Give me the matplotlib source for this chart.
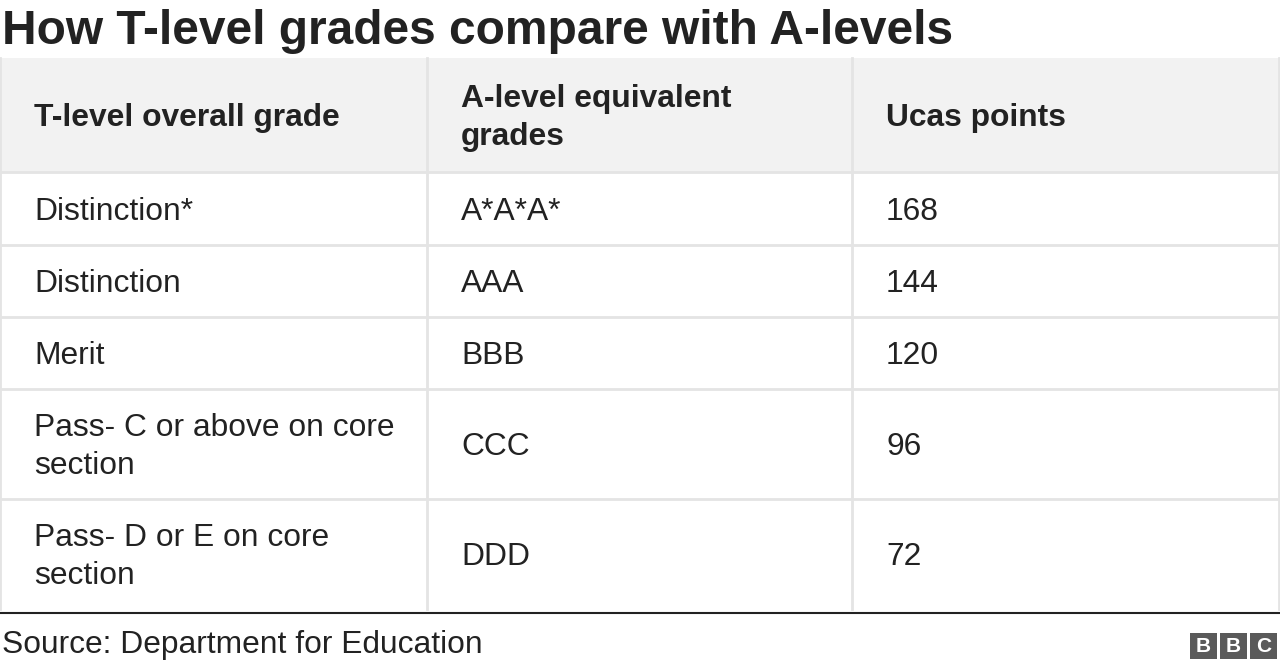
import matplotlib
matplotlib.use("Agg")
import matplotlib.pyplot as plt
from matplotlib.patches import Rectangle

title = "How T-level grades compare with A-levels"
headers = ["T-level overall grade", "A-level equivalent\ngrades", "Ucas points"]
tlevel = ["Distinction*", "Distinction", "Merit", "Pass- C or above on core\nsection", "Pass- D or E on core\nsection"]
alevel = ["A*A*A*", "AAA", "BBB", "CCC", "DDD"]
ucas = ["168", "144", "120", "96", "72"]
source = "Source: Department for Education"

W, H = 1280, 670
fig = plt.figure(figsize=(W/100, H/100), dpi=100)
ax = fig.add_axes([0, 0, 1, 1])
ax.set_xlim(0, W); ax.set_ylim(H, 0); ax.axis("off")
font = "Liberation Sans"

ax.text(2, 31, title, fontsize=34.5, fontweight="bold", family=font, va="center", ha="left", color="#222222")

col_x = [0, 427, 852, 1280]
row_y = [58, 172, 245, 317, 389, 499, 609]
pad = 34
ax.add_patch(Rectangle((0, row_y[0]), W, row_y[1]-row_y[0], color="#f2f2f2", lw=0))
for y in row_y[1:-1]:
    ax.plot([0, W], [y, y], color="#e4e4e4", lw=2)
for x in col_x[1:-1]:
    ax.plot([x, x], [row_y[0], row_y[-1]], color="#e4e4e4", lw=2)
ax.plot([0, 0], [row_y[0], row_y[-1]], color="#e4e4e4", lw=2)
ax.plot([W-1, W-1], [row_y[0], row_y[-1]], color="#e4e4e4", lw=2)

fs = 22.9
for i, h in enumerate(headers):
    ax.text(col_x[i] + pad, (row_y[0]+row_y[1])/2 + 3, h, fontsize=fs, fontweight="bold",
            family=font, va="center", ha="left", color="#222222", linespacing=1.36)
for r in range(len(tlevel)):
    yc = (row_y[r+1] + row_y[r+2]) / 2 + 3
    for i, v in enumerate([tlevel[r], alevel[r], ucas[r]]):
        ax.text(col_x[i] + pad, yc, v, fontsize=fs, family=font, va="center", ha="left",
                color="#222222", linespacing=1.36)

ax.plot([0, W], [613, 613], color="#222222", lw=1.5)
ax.text(2, 645, source, fontsize=fs, family=font, va="center", ha="left", color="#222222")

for k, letter in enumerate("BBC"):
    x0 = 1190 + k * 30
    ax.add_patch(Rectangle((x0, 633), 27, 26, color="#5a5a5a", lw=0))
    ax.text(x0 + 13.5, 646.5, letter, fontsize=15, fontweight="bold", family=font,
            color="white", ha="center", va="center")

fig.savefig("out.png", dpi=100)
